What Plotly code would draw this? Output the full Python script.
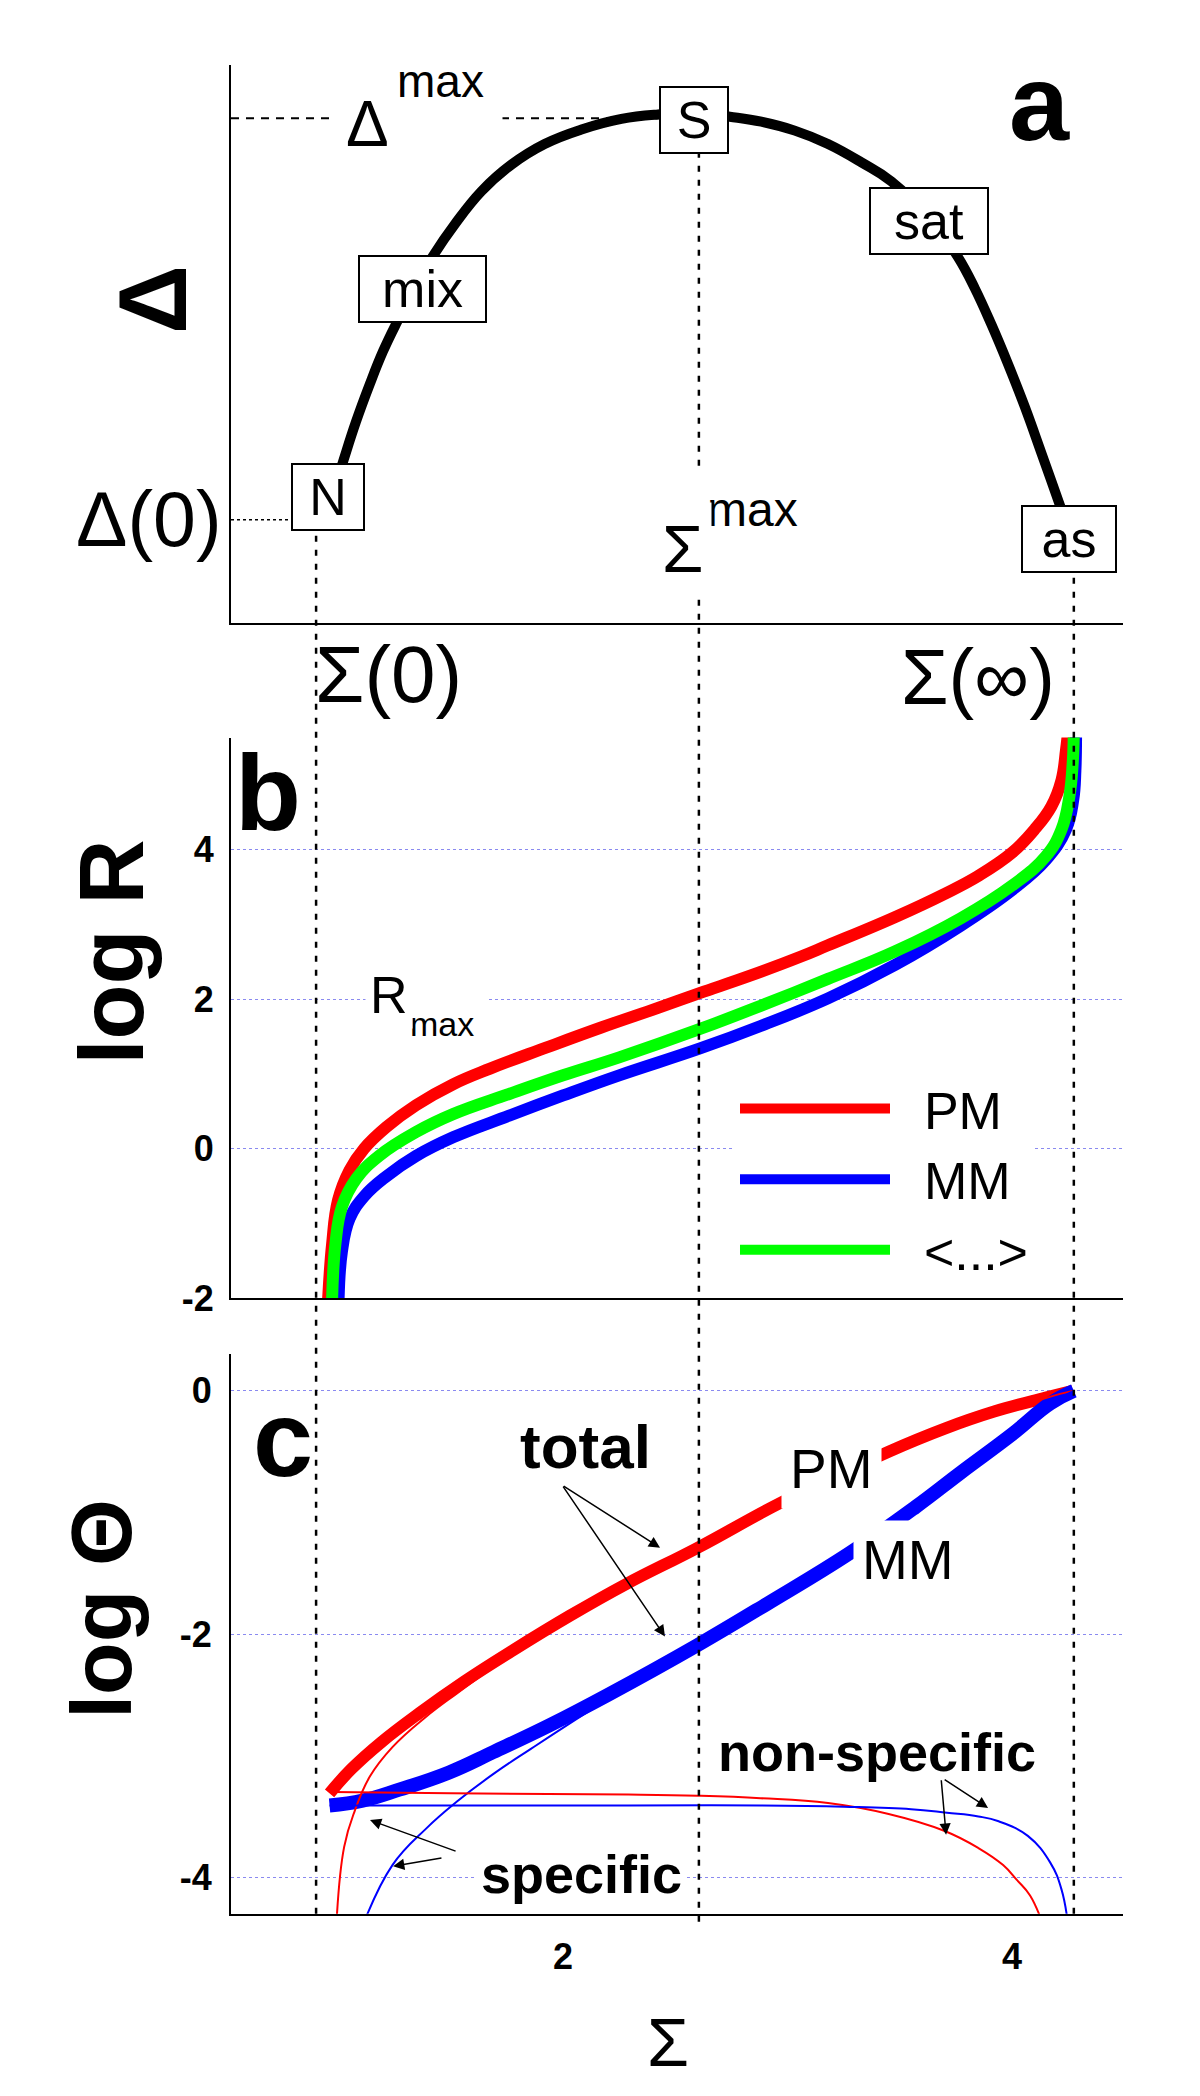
import plotly.graph_objects as go

W, H = 1200, 2096
FONT = "Liberation Sans, Arial, Helvetica, sans-serif"

# reference levels (Sigma axis, panel a)
sigma_0, sigma_max, sigma_inf = 0.90, 2.605, 4.275
delta_0, delta_max, delta_inf = 0.185, 0.905, 0.14

# panel a: Delta vs Sigma
sigma_a = [0.940, 1.020, 1.077, 1.139, 1.198, 1.261, 1.339, 1.424, 1.518, 1.636, 1.770, 1.918,
           2.082, 2.260, 2.423, 2.600, 2.743, 2.883, 3.032, 3.180, 3.329, 3.462, 3.648, 3.759,
           3.834, 3.908, 3.982, 4.057, 4.131, 4.212, 4.275]
delta_a = [0.185, 0.289, 0.360, 0.428, 0.487, 0.540, 0.600, 0.660, 0.715, 0.774, 0.822, 0.859,
           0.885, 0.904, 0.912, 0.915, 0.908, 0.899, 0.883, 0.859, 0.826, 0.792, 0.718, 0.656,
           0.600, 0.535, 0.464, 0.387, 0.304, 0.212, 0.140]
box_labels = ["N", "mix", "S", "sat", "as"]

# panel b: log R vs Sigma
sig_b_pm = [0.953, 0.971, 0.998, 1.049, 1.114, 1.214, 1.345, 1.51, 1.675, 1.924, 2.17, 2.42,
            2.608, 2.83, 3.06, 3.18, 3.48, 3.70, 3.85, 4.0, 4.10, 4.175, 4.22, 4.24, 4.25]
logr_pm = [-2.05, -1.29, -0.69, -0.29, 0.0, 0.29, 0.58, 0.86, 1.07, 1.35, 1.62, 1.88,
           2.08, 2.31, 2.57, 2.72, 3.10, 3.41, 3.65, 3.96, 4.27, 4.58, 4.93, 5.33, 5.6]
sig_b_mm = [1.0, 1.015, 1.049, 1.114, 1.214, 1.345, 1.51, 1.76, 2.0, 2.25, 2.61, 2.88, 3.18,
            3.48, 3.77, 4.0, 4.15, 4.24, 4.272, 4.282, 4.285]
logr_mm = [-2.05, -1.38, -0.94, -0.64, -0.37, -0.10, 0.15, 0.44, 0.71, 0.98, 1.34, 1.64, 2.01,
           2.46, 2.98, 3.46, 3.86, 4.27, 4.66, 5.06, 5.6]
sig_b_avg = [0.971, 0.986, 1.015, 1.08, 1.18, 1.345, 1.51, 1.76, 2.0, 2.25, 2.61, 2.88, 3.18,
             3.48, 3.77, 4.0, 4.15, 4.22, 4.255, 4.27, 4.275]
logr_avg = [-2.05, -1.28, -0.78, -0.40, -0.1, 0.22, 0.46, 0.73, 0.98, 1.22, 1.60, 1.91, 2.27,
            2.64, 3.08, 3.52, 3.91, 4.27, 4.71, 5.16, 5.6]
legend_names = ["PM", "MM", "&lt;...&gt;"]

# panel c: log Theta vs Sigma
sig_c_pm_tot = [0.96, 1.057, 1.19, 1.36, 1.56, 1.78, 2.03, 2.28, 2.60, 2.98, 3.45, 3.70, 3.92, 4.15, 4.27]
th_pm_tot = [-3.31, -3.11, -2.89, -2.65, -2.39, -2.13, -1.85, -1.59, -1.29, -0.91, -0.50, -0.31, -0.17, -0.056, 0.0]
sig_c_mm_tot = [0.96, 1.107, 1.27, 1.49, 1.69, 1.94, 2.20, 2.60, 2.91, 3.28, 3.57, 3.77, 4.0, 4.17, 4.275]
th_mm_tot = [-3.41, -3.37, -3.28, -3.14, -2.97, -2.75, -2.50, -2.09, -1.75, -1.33, -0.955, -0.674, -0.357, -0.103, 0.0]
sig_c_pm_sp = [0.99, 1.025, 1.073, 1.14, 1.24, 1.39, 1.526, 1.70, 2.03, 2.60, 3.45, 4.15, 4.27]
th_pm_sp = [-4.4, -3.75, -3.45, -3.17, -2.93, -2.68, -2.49, -2.26, -1.88, -1.31, -0.52, -0.06, 0.0]
sig_c_mm_sp = [1.107, 1.24, 1.39, 1.526, 1.69, 1.86, 2.11, 2.38, 2.91, 3.57, 4.17, 4.275]
th_mm_sp = [-4.4, -3.90, -3.60, -3.38, -3.15, -2.94, -2.64, -2.33, -1.76, -0.96, -0.11, 0.0]
sig_c_pm_ns = [0.973, 1.5, 2.29, 2.6, 2.88, 3.18, 3.45, 3.70, 3.85, 3.96, 4.02, 4.08, 4.14]
th_pm_ns = [-3.30, -3.31, -3.32, -3.33, -3.35, -3.39, -3.48, -3.62, -3.76, -3.90, -4.02, -4.15, -4.4]
sig_c_mm_ns = [0.96, 1.5, 2.29, 2.88, 3.25, 3.55, 3.71, 3.85, 3.94, 4.07, 4.17, 4.22, 4.25]
th_mm_ns = [-3.41, -3.41, -3.41, -3.41, -3.42, -3.44, -3.47, -3.50, -3.54, -3.66, -3.88, -4.10, -4.4]

b_ticks = [-2, 0, 2, 4]
c_ticks = [-4, -2, 0]
x_ticks = [2, 4]

# ---- layout geometry (pixels of the 1200x2096 page)
def dom(top_px, bottom_px):
    return [1 - bottom_px / H, 1 - top_px / H]

XDOM = [223 / W, 1115 / W]
XR = [0.521, 4.494]
DOM_A, DOM_B, DOM_C = dom(58, 621), dom(737, 1303), dom(1360, 1925)
YR_A, YR_B, YR_C = [0, 1], [-2, 5.5], [-4.3, 0.3]


def paper_y(v, rng, d):
    return d[0] + (v - rng[0]) / (rng[1] - rng[0]) * (d[1] - d[0])


RED, BLUE, GREEN = "#ff0000", "#0000ff", "#00ff00"
GRID = "#8a8af0"
SMOOTH = 1.2

fig = go.Figure()

# panel a
fig.add_trace(go.Scatter(x=sigma_a, y=delta_a, mode="lines", xaxis="x", yaxis="y",
                         line=dict(color="black", width=10, shape="spline", smoothing=SMOOTH),
                         showlegend=False, hoverinfo="skip"))

# panel b (red, blue, green on top)
for xs, ys, c, nm in [(sig_b_pm, logr_pm, RED, legend_names[0]),
                      (sig_b_mm, logr_mm, BLUE, legend_names[1]),
                      (sig_b_avg, logr_avg, GREEN, legend_names[2])]:
    fig.add_trace(go.Scatter(x=xs, y=ys, mode="lines", xaxis="x2", yaxis="y2",
                             name="&nbsp;&nbsp;" + nm,
                             line=dict(color=c, width=12, shape="spline", smoothing=SMOOTH),
                             showlegend=True, hoverinfo="skip"))

# panel c
fig.add_trace(go.Scatter(x=sig_c_pm_tot, y=th_pm_tot, mode="lines", xaxis="x3", yaxis="y3",
                         line=dict(color=RED, width=12, shape="spline", smoothing=SMOOTH),
                         showlegend=False, hoverinfo="skip"))
fig.add_trace(go.Scatter(x=sig_c_mm_tot, y=th_mm_tot, mode="lines", xaxis="x3", yaxis="y3",
                         line=dict(color=BLUE, width=14, shape="spline", smoothing=SMOOTH),
                         showlegend=False, hoverinfo="skip"))
for xs, ys, c in [(sig_c_pm_sp, th_pm_sp, RED), (sig_c_mm_sp, th_mm_sp, BLUE),
                  (sig_c_pm_ns, th_pm_ns, RED), (sig_c_mm_ns, th_mm_ns, BLUE)]:
    fig.add_trace(go.Scatter(x=xs, y=ys, mode="lines", xaxis="x3", yaxis="y3",
                             line=dict(color=c, width=2, shape="spline", smoothing=SMOOTH),
                             showlegend=False, hoverinfo="skip"))

# ---- dashed guide lines
shapes = []
dash_v = dict(color="black", width=2.5, dash="6px,8px")
shapes.append(dict(type="line", xref="x3", yref="paper", x0=sigma_0, x1=sigma_0,
                   y0=DOM_C[0], y1=paper_y(delta_0, YR_A, DOM_A), line=dash_v, layer="above"))
shapes.append(dict(type="line", xref="x3", yref="paper", x0=sigma_max, x1=sigma_max,
                   y0=DOM_C[0] - 8 / H, y1=paper_y(delta_max, YR_A, DOM_A), line=dash_v, layer="above"))
shapes.append(dict(type="line", xref="x3", yref="paper", x0=sigma_inf, x1=sigma_inf,
                   y0=DOM_C[0], y1=paper_y(delta_inf, YR_A, DOM_A), line=dash_v, layer="above"))
shapes.append(dict(type="line", xref="x", yref="y", x0=XR[0], x1=sigma_max, y0=delta_max, y1=delta_max,
                   line=dict(color="black", width=2, dash="8px,7px"), layer="below"))
shapes.append(dict(type="line", xref="x", yref="y", x0=XR[0], x1=sigma_a[0], y0=delta_0, y1=delta_0,
                   line=dict(color="black", width=1.5, dash="3px,3px"), layer="below"))

# ---- text
anns = []


def txt(x, y, text, size, xr, yr, **kw):
    d = dict(x=x, y=y, text=text, xref=xr, yref=yr, showarrow=False,
             font=dict(family=FONT, size=size, color="black"), xanchor="center", yanchor="middle")
    d.update(kw)
    anns.append(d)


def ptxt(px, py, text, size, **kw):
    # position given in page pixels (for labels that sit outside the axes)
    txt(px / W, 1 - py / H, text, size, "paper", "paper", **kw)


# boxed labels on curve a
box_pos = [(0.955, 0.226, 68), (1.374, 0.599, 123), (2.584, 0.902, 64), (3.628, 0.720, 114), (4.254, 0.150, 90)]
for lab, (bx, by, bw) in zip(box_labels, box_pos):
    txt(bx, by, lab, 52, "x", "y", bgcolor="white", bordercolor="black", borderwidth=2,
        borderpad=1, width=bw, height=62)

txt(1.452, 0.972, "max", 46, "x", "y", bgcolor="white", borderpad=18)
txt(1.131, 0.895, "Δ", 64, "x", "y", bgcolor="white", borderpad=10)
txt(2.842, 0.203, "max", 48, "x", "y", bgcolor="white", borderpad=14)
txt(2.530, 0.133, "Σ", 67, "x", "y", bgcolor="white", borderpad=8)
ptxt(141, 516, "Δ(0)", 77)
ptxt(380, 673, "Σ(0)", 80)
ptxt(970, 676, "Σ(∞)", 77)
ptxt(144, 295, "<b>Δ</b>", 96, textangle=-90)
txt(4.12, 0.933, "<b>a</b>", 108, "x", "y")

# panel b
txt(0.686, 4.76, "<b>b</b>", 108, "x2", "y2")
txt(1.461, 1.67, "max", 34, "x2", "y2", bgcolor="white", borderpad=14)
txt(1.225, 2.06, "R", 52, "x2", "y2", bgcolor="white", borderpad=4)
ptxt(104, 954, "<b>log R</b>", 90, textangle=-90)

# panel c
txt(0.753, -0.395, "<b>c</b>", 108, "x3", "y3")
txt(2.10, -0.46, "<b>total</b>", 62, "x3", "y3")
txt(3.195, -0.64, "PM", 55, "x3", "y3", bgcolor="white", borderpad=8)
txt(3.537, -1.39, "MM", 55, "x3", "y3", bgcolor="white", borderpad=8)
txt(3.40, -2.97, "<b>non-specific</b>", 54, "x3", "y3")
txt(2.08, -3.97, "<b>specific</b>", 54, "x3", "y3", bgcolor="white", borderpad=4)
ptxt(93, 1617, "<b>log Θ</b>", 86, textangle=-90)
ptxt(660, 2055, "Σ", 68)

# arrows (tail -> head)
arrows = [((1.996, -0.775), (2.432, -1.29)), ((1.996, -0.775), (2.454, -2.02)),
          ((1.528, -3.79), (1.14, -3.53)), ((1.465, -3.84), (1.243, -3.91)),
          ((3.684, -3.19), (3.706, -3.65)), ((3.693, -3.19), (3.893, -3.43))]
for (tx, ty), (hx, hy) in arrows:
    anns.append(dict(x=hx, y=hy, ax=tx, ay=ty, xref="x3", yref="y3", axref="x3", ayref="y3",
                     text="", showarrow=True, arrowhead=2, arrowsize=1.5, arrowwidth=1.5,
                     arrowcolor="black", standoff=0, startstandoff=0))

axis_line = dict(showline=True, linecolor="black", linewidth=2, zeroline=False, ticks="",
                 fixedrange=True)
tickfont = dict(family=FONT, size=36, color="black", weight="bold")

fig.update_layout(
    width=W, height=H, autosize=False,
    margin=dict(l=0, r=0, t=0, b=0),
    paper_bgcolor="white", plot_bgcolor="white",
    font=dict(family=FONT, color="black"),
    xaxis=dict(domain=XDOM, range=XR, anchor="y", showticklabels=False, showgrid=False, **axis_line),
    xaxis2=dict(domain=XDOM, range=XR, anchor="y2", showticklabels=False, showgrid=False, **axis_line),
    xaxis3=dict(domain=XDOM, range=XR, anchor="y3", tickvals=x_ticks, ticktext=[str(v) for v in x_ticks],
                tickfont=tickfont, ticklabelstandoff=10, showgrid=False, **axis_line),
    yaxis=dict(domain=DOM_A, range=YR_A, anchor="x", showticklabels=False, showgrid=False, **axis_line),
    yaxis2=dict(domain=DOM_B, range=YR_B, anchor="x2", tickvals=b_ticks, ticktext=[str(v) for v in b_ticks],
                tickfont=tickfont, ticklabelstandoff=8, showgrid=True, gridcolor=GRID, gridwidth=1,
                griddash="dot", **axis_line),
    yaxis3=dict(domain=DOM_C, range=YR_C, anchor="x3", tickvals=c_ticks, ticktext=[str(v) for v in c_ticks],
                tickfont=tickfont, ticklabelstandoff=10, showgrid=True, gridcolor=GRID, gridwidth=1,
                griddash="dot", **axis_line),
    legend=dict(x=727 / W, y=1 - 1071 / H, xanchor="left", yanchor="top", bgcolor="white",
                font=dict(family=FONT, size=52, color="black"), itemwidth=150, tracegroupgap=0,
                borderwidth=0),
    shapes=shapes,
    annotations=anns,
)

fig.write_html("out.html")
